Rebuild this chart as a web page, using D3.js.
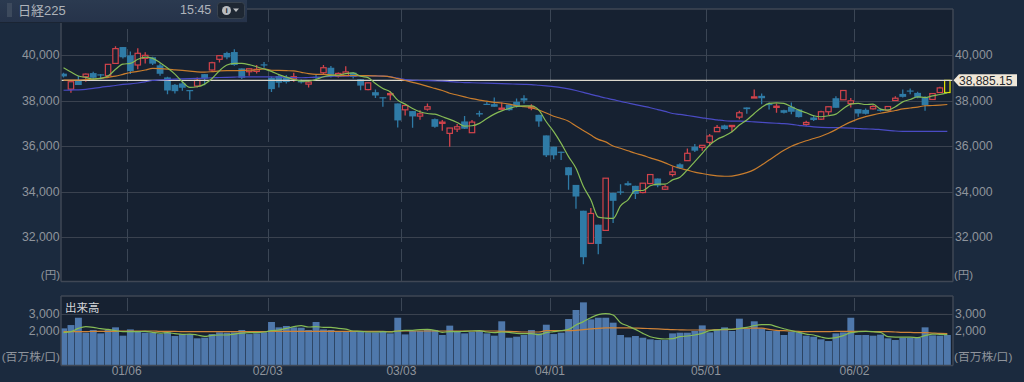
<!DOCTYPE html>
<html><head><meta charset="utf-8">
<script src="https://cdn.jsdelivr.net/npm/d3@7"></script>
<style>html,body{margin:0;padding:0;background:#1b2a3e;overflow:hidden}svg{display:block}</style>
</head><body><svg id="c" width="1024" height="382"></svg>
<script>
// [open, high, low, close]
const ohlc = [
[39180,39220,39015,39060],[38500,38825,38340,38825],[38900,39075,38680,38680],[39045,39190,38825,39160],[39205,39265,38900,39000],
[39150,39160,38930,39100],[39090,39590,39015,39590],[39630,40380,39630,40280],[40350,40350,39850,39900],[39985,40150,39160,39295],
[39560,40295,39370,40075],[39850,40120,39630,39985],[39900,39925,39560,39620],[39545,39630,39090,39175],[39015,39045,38280,38440],
[38690,38720,38310,38410],[38750,38810,38430,38560],[38460,38460,38030,38440],[38635,39015,38575,38885],[39160,39160,38675,38970],
[39340,39705,39310,39660],[39810,40000,39675,39970],[40090,40145,39810,39895],[40130,40250,39530,39560],[39410,39410,38940,39000],
[39265,39410,39090,39395],[39280,39560,39190,39370],[39590,39690,39440,39575],[39000,39045,38370,38500],[39075,39120,38575,38780],
[39015,39120,38750,38810],[38955,39220,38825,39045],[38885,38925,38750,38795],[38720,38855,38575,38810],[39045,39120,38900,38985],
[39220,39560,39120,39440],[39440,39515,39015,39135],[39075,39235,39015,39190],[39080,39505,39080,39255],[39225,39240,38965,39035],
[38935,38935,38455,38655],[38480,38775,38455,38775],[38365,38480,38115,38220],[38145,38145,37725,38115],[38265,38410,38015,38305],
[37870,37870,36815,37125],[37590,37780,37345,37780],[37535,37535,36805,37300],[37315,37575,37155,37415],[37620,37870,37545,37725],
[37180,37210,36805,36845],[36995,37140,36670,37050],[36555,36790,35970,36790],[36745,36965,36615,36845],[37080,37315,36745,36760],
[36585,37140,36585,37050],[37445,37545,37285,37385],[37855,37940,37810,37825],[37840,38130,37725,37725],[37620,37910,37605,37665],
[37825,37825,37545,37575],[37940,38090,37695,37725],[38100,38235,37870,38000],[37665,37840,37575,37735],[37370,37370,36845,37080],
[36465,36465,35520,35590],[35970,35970,35415,35590],[35750,35750,35385,35735],[35065,35065,34075,34715],[34290,34290,33240,33780],
[33155,33155,30800,31110],[31720,33270,31720,33035],[32540,32540,31240,31695],[32290,34585,32290,34585],[33940,33940,32615,33590],
[34000,34320,33855,33970],[34365,34450,34250,34275],[34250,34250,33665,33895],[33955,34365,33925,34365],[34350,34745,34320,34745],
[34570,34570,34190,34260],[34100,34290,34075,34205],[34745,35095,34655,34860],[35195,35240,35000,35020],[35355,35885,35355,35680],
[35970,36085,35735,35795],[35940,36030,35795,36030],[36160,36525,36000,36440],[36630,36920,36630,36815],[36905,36935,36715,36745],
[36875,36920,36600,36905],[37270,37545,37180,37460],[37695,37695,37415,37620],[38115,38480,38115,38160],[38205,38305,37840,38100],
[37855,37910,37605,37795],[37725,37870,37460,37750],[37575,37590,37430,37460],[37725,37910,37400,37505],[37605,37605,37255,37270],
[36950,37110,36890,37035],[37255,37360,37095,37140],[37180,37545,37140,37505],[37505,37725,37360,37725],[38100,38190,37680,37680],
[38030,38440,38030,38440],[37870,38115,37695,37985],[37620,37620,37285,37430],[37590,37650,37385,37415],[37635,37795,37605,37735],
[37605,37650,37520,37545],[37575,37735,37545,37735],[38000,38190,38000,38100],[38290,38480,38130,38160],[38440,38525,38275,38425],
[38335,38380,38100,38130],[38130,38190,37545,37795],[38045,38305,38030,38305],[38350,38600,38340,38555],[38350,38885,38350,38885]
];
const ma5 = [39440,39250,39075,39015,38940,38970,39075,39370,39600,39630,39810,39910,39850,39660,39425,39160,38825,38575,38605,38720,
38970,39310,39560,39630,39630,39575,39485,39385,39280,39135,39030,38925,38855,38855,38925,39045,39105,39120,39185,39210,
39065,39005,38745,38525,38380,38015,37840,37650,37505,37430,37400,37285,37170,37035,36875,36890,36995,37210,37400,37545,
37650,37735,37765,37765,37575,37065,36630,36115,35535,35020,34220,33635,32875,32830,32815,33370,33635,34045,34045,34250,
34320,34320,34510,34625,34950,35315,35680,36045,36290,36440,36630,36920,37140,37430,37695,37870,37900,37870,37725,37575,
37460,37330,37285,37330,37400,37650,37840,37870,37825,37840,37620,37575,37725,37940,38045,38160,38130,38205,38265,38335];
const ma25 = [38900,38900,38900,38920,38940,38970,39020,39070,39150,39230,39280,39340,39410,39400,39380,39350,39320,39290,39260,39250,
39270,39300,39310,39310,39320,39330,39350,39390,39330,39320,39310,39300,39240,39180,39150,39150,39130,39090,39100,39100,
39090,39090,39080,39070,39040,38960,38880,38800,38720,38620,38530,38440,38320,38240,38160,38080,38020,37970,37920,37890,
37840,37770,37730,37690,37580,37450,37310,37210,37090,36880,36680,36480,36290,36180,36000,35900,35790,35680,35590,35480,
35380,35260,35120,35020,34940,34850,34790,34730,34690,34670,34680,34740,34830,34960,35160,35380,35600,35810,35990,36120,
36230,36330,36430,36560,36720,36900,37060,37190,37290,37370,37440,37500,37560,37630,37670,37710,37770,37780,37800,37825];
const ma75 = [38450,38460,38470,38490,38530,38580,38620,38660,38710,38730,38770,38820,38880,38900,38920,38940,38950,38960,38970,38980,
39000,39010,39020,39030,39040,39040,39040,39040,39040,39030,39020,39010,39000,39010,39020,39040,39060,39070,39080,39080,
39080,39080,39080,39070,39040,38980,38920,38890,38880,38870,38860,38850,38830,38810,38790,38780,38770,38760,38750,38740,
38730,38720,38710,38700,38670,38640,38610,38570,38510,38440,38360,38270,38190,38110,38040,37960,37890,37820,37750,37680,
37600,37520,37430,37390,37340,37290,37240,37190,37150,37110,37095,37090,37080,37060,37040,37020,37000,36980,36950,36910,
36870,36840,36820,36810,36805,36800,36790,36770,36750,36745,36720,36690,36660,36645,36640,36640,36640,36640,36640,36640];
const volume = [2155,2350,2780,1900,2060,1860,2060,2215,1725,2095,1960,1900,1900,1820,1920,1705,1820,1820,1570,1605,
1820,1920,1900,1920,2060,1820,1860,1920,2530,2215,2295,2215,2195,2060,2530,2095,2060,1940,1960,1960,
1960,1920,1920,1960,1860,2780,1800,2000,2000,2100,2060,1765,2315,2000,1860,1940,2000,1860,1725,2570,
1605,1665,1765,2060,1860,2370,1820,1900,2705,3235,3685,2685,2780,2780,2490,1765,1625,1705,1605,1510,
1470,1470,1860,1900,1900,2000,2330,1920,2100,2215,2000,2725,2155,2570,2155,2000,2000,1765,1960,1920,
1725,1665,1510,1410,1860,1920,2780,1765,1765,1725,1785,1570,1470,1605,1605,1605,2215,1745,1725,1765];
const volMa5 = [1900,1960,2155,2255,2215,2135,2095,2020,1960,1960,1960,1980,1920,1880,1900,1845,1800,1820,1765,1685,
1745,1765,1765,1820,1880,1900,1900,1940,2020,2060,2155,2255,2315,2235,2255,2215,2215,2155,2115,2000,
1980,1940,1940,1960,1940,2000,2040,2040,2080,2095,2040,1920,1960,1960,1980,2000,2020,1940,1900,1940,
1920,1860,1845,1845,1785,1900,1960,2020,2095,2350,2550,2780,2960,3020,2940,2490,2295,2095,1860,1665,
1570,1530,1550,1665,1705,1765,1860,2020,2060,2115,2095,2155,2215,2315,2370,2370,2255,2135,2020,1920,
1820,1765,1645,1570,1605,1725,1900,1960,1980,1960,1920,1665,1645,1645,1645,1605,1725,1820,1800,1785];
const volMa25 = [1960,1960,1960,1960,1980,1980,1980,1980,2000,2000,2000,2000,2000,1980,1980,1980,1960,1960,1960,1960,
1960,1960,1960,1960,1960,1960,1960,1960,1980,1980,1980,1980,1980,1980,1980,1980,1980,1980,1980,1980,
1980,1980,1980,1980,1960,2000,2000,2000,2000,2000,2000,2000,2000,2000,2000,2000,2000,2000,2000,1980,
1980,1960,1940,1940,1940,2020,2020,2020,2020,2040,2080,2120,2160,2180,2180,2180,2180,2170,2160,2140,
2120,2100,2080,2070,2060,2060,2060,2060,2080,2080,2100,2140,2170,2170,2170,2100,2040,2020,2000,1980,
1960,1960,1960,1960,1980,1980,1980,1980,1980,1960,1960,1960,1940,1920,1920,1900,1900,1880,1860,1850];
const priceTicks = [32000,34000,36000,38000,40000];
const volTicks = [2000,3000];
const monthStarts = [9,28,46,66,87,107];
const monthLabels = ["01/06","02/03","03/03","04/01","05/01","06/02"];
const lastPrice = 38885.15;
const title = "日経225", timeLabel = "15:45", volTitle = "出来高", priceUnit = "(円)", volUnit = "(百万株/口)";

const svg = d3.select("#c");
const FONT = "'Liberation Sans','Noto Sans CJK JP',sans-serif";
const L = 61, R = 953, T1 = 9, B1 = 281.5, T2 = 296, B2 = 365.5;
const idx = d3.range(ohlc.length);
const x = d3.scaleBand().domain(idx).range([59.8, 59.8 + 7.427 * ohlc.length]);
const cx = i => x(i) + x.bandwidth() / 2;
const y = d3.scaleLinear().domain([32000, 40000]).range([237, 55]);
const yv = d3.scaleLinear().domain([0, 3000]).range([365, 314]);
const bg = "#162131", gridC = "#3a424f", axisC = "#3f4755", lab = "#8f949c";

svg.append("rect").attr("width", 1024).attr("height", 382).attr("fill", "#1b2a3e");
const defs = svg.append("defs");
defs.append("clipPath").attr("id", "p1").append("rect").attr("x", L).attr("y", T1).attr("width", R - L).attr("height", B1 - T1);
defs.append("clipPath").attr("id", "p2").append("rect").attr("x", L).attr("y", T2).attr("width", R - L).attr("height", B2 - T2);
const tg = defs.append("linearGradient").attr("id", "tb").attr("x2", 0).attr("y2", 1);
tg.append("stop").attr("offset", 0).attr("stop-color", "#2b3a50");
tg.append("stop").attr("offset", 1).attr("stop-color", "#26334a");

svg.append("rect").attr("x", L).attr("y", T1).attr("width", R - L).attr("height", B1 - T1).attr("fill", bg);
svg.append("rect").attr("x", L).attr("y", T2).attr("width", R - L).attr("height", B2 - T2).attr("fill", bg);

// price grid
const g1 = svg.append("g");
g1.selectAll("line.h").data(priceTicks).join("line").attr("x1", L).attr("x2", R)
  .attr("y1", d => Math.round(y(d)) + .5).attr("y2", d => Math.round(y(d)) + .5).attr("stroke", gridC);
g1.selectAll("line.v").data(monthStarts).join("line").attr("class", "v")
  .attr("x1", d => Math.round(x(d)) + .5).attr("x2", d => Math.round(x(d)) + .5).attr("y1", T1).attr("y2", B1)
  .attr("stroke", "#3b4655").attr("stroke-dasharray", "13,7");

// volume grid
const g2 = svg.append("g");
g2.selectAll("line.h").data(volTicks.slice(1)).join("line").attr("x1", L).attr("x2", R)
  .attr("y1", d => Math.round(yv(d)) + .5).attr("y2", d => Math.round(yv(d)) + .5).attr("stroke", gridC);
g2.selectAll("line.v").data(monthStarts).join("line").attr("class", "v")
  .attr("x1", d => Math.round(x(d)) + .5).attr("x2", d => Math.round(x(d)) + .5).attr("y1", T2 + 2).attr("y2", 311)
  .attr("stroke", "#3b4655");

// candles
const plot = svg.append("g").attr("clip-path", "url(#p1)");
const UP = "#d2434b", DN = "#2f7ba6", LAST = "#e4e400";
const colorOf = (d, i) => i === ohlc.length - 1 ? LAST : (d[3] > d[0] ? UP : DN);
const candle = plot.selectAll("g.c").data(ohlc).join("g").attr("class", "c");
candle.append("line")
  .attr("x1", (d, i) => cx(i)).attr("x2", (d, i) => cx(i))
  .attr("y1", d => y(d[1])).attr("y2", d => y(d[2])).attr("stroke", colorOf).attr("stroke-width", 1.3);
candle.append("rect")
  .attr("x", (d, i) => cx(i) - (d[3] > d[0] ? 2.7 : 3.4)).attr("width", d => d[3] > d[0] ? 5.4 : 6.8)
  .attr("y", d => Math.min(y(d[0]), y(d[3]))).attr("height", d => Math.max(1.2, Math.abs(y(d[0]) - y(d[3]))))
  .attr("fill", (d, i) => d[3] > d[0] ? bg : DN)
  .attr("stroke", (d, i) => d[3] > d[0] ? colorOf(d, i) : "none").attr("stroke-width", 1.2);

// last-price line
plot.append("line").attr("x1", L).attr("x2", R).attr("y1", y(lastPrice)).attr("y2", y(lastPrice))
  .attr("stroke", "#dcd8cc").attr("stroke-width", 1.2);

// moving averages
const lineP = d3.line().x((d, i) => cx(i)).y(d => y(d)).curve(d3.curveMonotoneX);
[[ma75, "#4a4bc4"], [ma25, "#c97d2d"], [ma5, "#86bb55"]].forEach(([s, c]) =>
  plot.append("path").attr("d", lineP(s)).attr("fill", "none").attr("stroke", c).attr("stroke-width", 1.2));

// volume
const vplot = svg.append("g").attr("clip-path", "url(#p2)");
vplot.selectAll("rect").data(volume).join("rect")
  .attr("x", (d, i) => x(i) + .3).attr("width", 6.9)
  .attr("y", d => yv(d)).attr("height", d => yv(0) - yv(d)).attr("fill", "#4f78ab");
const lineV = d3.line().x((d, i) => cx(i)).y(d => yv(d)).curve(d3.curveMonotoneX);
[[volMa25, "#cf8338"], [volMa5, "#86bb55"]].forEach(([s, c]) =>
  vplot.append("path").attr("d", lineV(s)).attr("fill", "none").attr("stroke", c).attr("stroke-width", 1.2));

// frame
[[L, T1, L, B1], [R, T1, R, B1], [L, B1, R, B1], [L, T1, R, T1], [L, T2, L, B2], [R, T2, R, B2], [L, T2, R, T2], [L, B2, R, B2]]
  .forEach(a => svg.append("line").attr("x1", a[0]).attr("y1", a[1]).attr("x2", a[2]).attr("y2", a[3])
    .attr("stroke", axisC).attr("stroke-width", 1.5));

// text helper
const txt = (s, px, py, anchor, fill, size) => svg.append("text").text(s).attr("x", px).attr("y", py)
  .attr("text-anchor", anchor || "start").attr("fill", fill || lab).attr("font-size", size || 12.3)
  .attr("font-family", FONT).attr("dominant-baseline", "central");
const fmt = d3.format(",");
priceTicks.forEach(t => { txt(fmt(t), 59.5, y(t), "end"); txt(fmt(t), 955, y(t)); });
volTicks.forEach(t => { txt(fmt(t), 59.5, yv(t), "end"); txt(fmt(t), 955, yv(t)); });
txt(priceUnit, 60, 275, "end", lab, 11.5); txt(priceUnit, 954, 275, "start", lab, 11.5);
txt(volUnit, 60, 357, "end", lab, 11.8); txt(volUnit, 954, 357, "start", lab, 11.8);
txt(volTitle, 65, 308, "start", "#d4d6d9", 11.5);
monthStarts.forEach((m, i) => txt(monthLabels[i], x(m), 371, "middle", lab, 12));

// price tag
svg.append("path").attr("d", d3.line()([[953.5, y(lastPrice)], [959, y(lastPrice) - 6], [1017, y(lastPrice) - 6], [1017, y(lastPrice) + 6], [959, y(lastPrice) + 6]]) + "Z").attr("fill", "#f0e7d8");
txt(d3.format(",.2f")(lastPrice), 959, y(lastPrice) + .5, "start", "#25282c", 12);

// title bar
svg.append("rect").attr("x", 0).attr("y", 0).attr("width", 247).attr("height", 22).attr("fill", "url(#tb)");
svg.append("line").attr("x1", 0).attr("x2", 247).attr("y1", 22.5).attr("y2", 22.5).attr("stroke", "#1a2433");
svg.append("rect").attr("x", 7).attr("y", 3).attr("width", 5).attr("height", 14).attr("fill", "#3d4a5d");
txt(title, 18, 10, "start", "#aeb3ba", 13);
txt(timeLabel, 180, 10, "start", "#aeb3ba", 12.5);
svg.append("rect").attr("x", 217.5).attr("y", 2.5).attr("width", 27).attr("height", 16).attr("rx", 3).attr("fill", "#1e2733").attr("stroke", "#39434f");
svg.append("circle").attr("cx", 226.5).attr("cy", 10.5).attr("r", 4.5).attr("fill", "#b9bcc0");
txt("i", 226.5, 10.5, "middle", "#1e2733", 8).attr("font-weight", "bold");
svg.append("path").attr("d", "M233,8.5h6l-3,3.5z").attr("fill", "#b9bcc0");
</script></body></html>
